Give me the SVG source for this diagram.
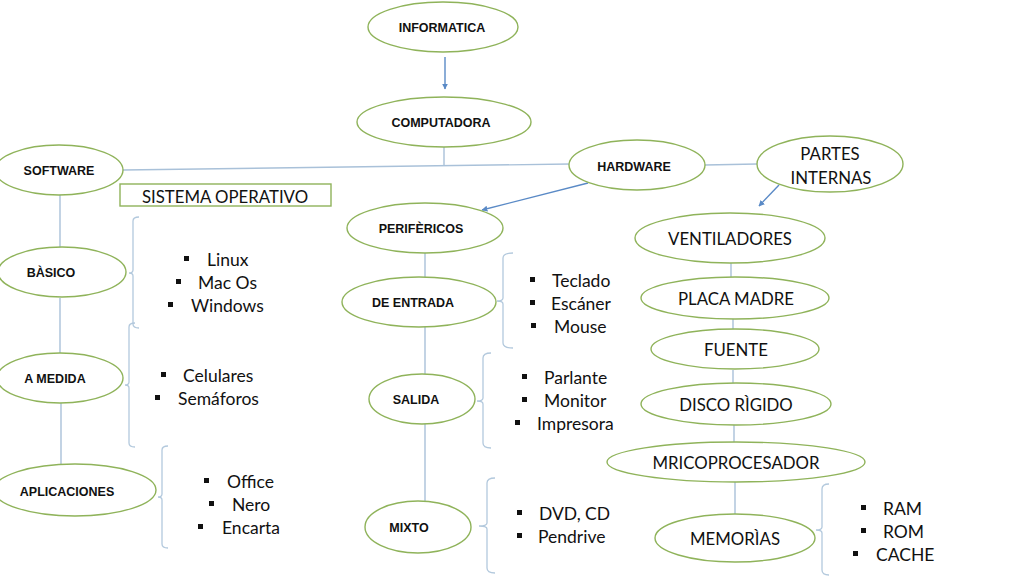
<svg xmlns="http://www.w3.org/2000/svg" width="1024" height="576" viewBox="0 0 1024 576">
<defs>
<style>
.node{fill:#fff;stroke:#8fb35a;stroke-width:1.4}
.lab{font-family:"Liberation Sans",Arial,sans-serif;font-weight:bold;font-size:12.5px;fill:#111;text-anchor:middle;dominant-baseline:central}
.big{font-family:Lato,"Open Sans",sans-serif;font-size:16.8px;fill:#111;text-anchor:middle;dominant-baseline:central}
.li{font-family:Lato,"Open Sans",sans-serif;font-size:17.5px;fill:#111;text-anchor:start;dominant-baseline:central}
.con{stroke:#a9c1d9;stroke-width:1.4;fill:none}
.arr{stroke:#5a8ac6;stroke-width:1.4;fill:none;marker-end:url(#ah)}
.br{stroke:#b3c9dd;stroke-width:1.3;fill:none}
.bul{fill:#111}
</style>
<marker id="ah" viewBox="0 0 10 10" refX="9" refY="5" markerWidth="6" markerHeight="6" orient="auto" markerUnits="userSpaceOnUse">
<path d="M0,0 L10,5 L0,10 z" fill="#5a8ac6"/>
</marker>
</defs>
<rect width="1024" height="576" fill="#fff"/>

<g id="connectors">
<line class="arr" x1="445" y1="57" x2="445" y2="89"/>
<line class="arr" x1="588" y1="183" x2="482" y2="210"/>
<line class="arr" x1="779" y1="185" x2="759" y2="206"/>
<line class="con" x1="444" y1="147" x2="444" y2="166"/>
<line class="con" x1="123" y1="170" x2="570" y2="164"/>
<line class="con" x1="705" y1="165" x2="757" y2="164"/>
<line class="con" x1="60" y1="195" x2="60" y2="247"/>
<line class="con" x1="60" y1="298" x2="60" y2="353"/>
<line class="con" x1="61" y1="403" x2="61" y2="465"/>
<line class="con" x1="425" y1="253" x2="425" y2="277"/>
<line class="con" x1="425" y1="327" x2="425" y2="374"/>
<line class="con" x1="425" y1="424" x2="425" y2="501"/>
<line class="con" x1="731" y1="263" x2="731" y2="277"/>
<line class="con" x1="733" y1="319" x2="733" y2="329"/>
<line class="con" x1="733" y1="370" x2="733" y2="383"/>
<line class="con" x1="734" y1="425" x2="734" y2="442"/>
<line class="con" x1="735" y1="482" x2="735" y2="514"/>
</g>

<g id="brackets">
<path class="br" d="M139,217 Q133,217 133,221 L133,270 Q133,273 129,273 Q133,273 133,276 L133,324 Q133,328 139,328"/>
<path class="br" d="M135,323 Q129,323 129,327 L129,382 Q129,385 125,385 Q129,385 129,388 L129,443 Q129,447 135,447"/>
<path class="br" d="M168,446 Q162,446 162,450 L162,494 Q162,497 158,497 Q162,497 162,500 L162,544 Q162,548 168,548"/>
<path class="br" d="M513,253 Q503,253 503,258 L503,298 Q503,301 497,301 Q503,301 503,304 L503,343 Q503,348 513,348"/>
<path class="br" d="M491,353 Q483,353 483,358 L483,398 Q483,401 477,401 Q483,401 483,404 L483,443 Q483,448 491,448"/>
<path class="br" d="M495,478 Q487,478 487,483 L487,523 Q487,526 479,526 Q487,526 487,529 L487,568 Q487,573 495,573"/>
<path class="br" d="M829,484 Q822,484 822,489 L822,527 Q822,530 816,530 Q822,530 822,533 L822,570 Q822,575 829,575"/>
</g>

<g id="informatica"><ellipse class="node" cx="443" cy="27" rx="75" ry="25"/><text class="lab" x="442" y="28">INFORMATICA</text></g>
<g id="computadora"><ellipse class="node" cx="444" cy="122" rx="87" ry="25"/><text class="lab" x="441" y="123">COMPUTADORA</text></g>
<g id="software"><ellipse class="node" cx="59" cy="170" rx="64" ry="25"/><text class="lab" x="59" y="171">SOFTWARE</text></g>
<g id="sistema"><rect x="120" y="184" width="211" height="22" fill="#fff" stroke="#8fb35a" stroke-width="1.4"/><text class="big" x="225" y="196">SISTEMA OPERATIVO</text></g>
<g id="hardware"><ellipse class="node" cx="637" cy="165" rx="68" ry="25"/><text class="lab" x="634" y="167">HARDWARE</text></g>
<g id="partes"><ellipse class="node" cx="830" cy="164" rx="73" ry="28"/><text class="big" x="830" y="153">PARTES</text><text class="big" x="831" y="177">INTERNAS</text></g>

<g id="basico"><ellipse class="node" cx="62" cy="272" rx="64" ry="25"/><text class="lab" x="51" y="273">BÀSICO</text></g>
<g id="amedida"><ellipse class="node" cx="60" cy="378" rx="63" ry="25"/><text class="lab" x="55" y="379">A MEDIDA</text></g>
<g id="aplicaciones"><ellipse class="node" cx="75" cy="490" rx="81" ry="26"/><text class="lab" x="67" y="492">APLICACIONES</text></g>

<g id="list-basico">
<rect class="bul" x="184" y="256" width="5" height="5"/><text class="li" x="207" y="259">Linux</text>
<rect class="bul" x="176" y="279" width="5" height="5"/><text class="li" x="198" y="282">Mac Os</text>
<rect class="bul" x="168" y="302" width="5" height="5"/><text class="li" x="191" y="305">Windows</text>
</g>
<g id="list-medida">
<rect class="bul" x="161" y="372" width="5" height="5"/><text class="li" x="183" y="375">Celulares</text>
<rect class="bul" x="155" y="395" width="5" height="5"/><text class="li" x="178" y="398">Semáforos</text>
</g>
<g id="list-aplic">
<rect class="bul" x="204" y="478" width="5" height="5"/><text class="li" x="227" y="481">Office</text>
<rect class="bul" x="209" y="501" width="5" height="5"/><text class="li" x="232" y="504">Nero</text>
<rect class="bul" x="198" y="524" width="5" height="5"/><text class="li" x="222" y="527">Encarta</text>
</g>

<g id="perifericos"><ellipse class="node" cx="425" cy="228" rx="78" ry="25"/><text class="lab" x="421" y="229">PERIFÈRICOS</text></g>
<g id="entrada"><ellipse class="node" cx="419" cy="302" rx="77" ry="25"/><text class="lab" x="413" y="303">DE ENTRADA</text></g>
<g id="salida"><ellipse class="node" cx="422" cy="399" rx="53" ry="25"/><text class="lab" x="416" y="400">SALIDA</text></g>
<g id="mixto"><ellipse class="node" cx="418" cy="527" rx="53" ry="26"/><text class="lab" x="409" y="528">MIXTO</text></g>

<g id="list-entrada">
<rect class="bul" x="530" y="277" width="5" height="5"/><text class="li" x="552" y="280">Teclado</text>
<rect class="bul" x="530" y="300" width="5" height="5"/><text class="li" x="551" y="303">Escáner</text>
<rect class="bul" x="531" y="323" width="5" height="5"/><text class="li" x="554" y="326">Mouse</text>
</g>
<g id="list-salida">
<rect class="bul" x="522" y="374" width="5" height="5"/><text class="li" x="544" y="377">Parlante</text>
<rect class="bul" x="522" y="397" width="5" height="5"/><text class="li" x="544" y="400">Monitor</text>
<rect class="bul" x="515" y="420" width="5" height="5"/><text class="li" x="537" y="423">Impresora</text>
</g>
<g id="list-mixto">
<rect class="bul" x="517" y="510" width="5" height="5"/><text class="li" x="539" y="513">DVD, CD</text>
<rect class="bul" x="517" y="533" width="5" height="5"/><text class="li" x="538" y="536">Pendrive</text>
</g>

<g id="ventiladores"><ellipse class="node" cx="730" cy="238" rx="95" ry="25"/><text class="big" x="730" y="238">VENTILADORES</text></g>
<g id="placa"><ellipse class="node" cx="735" cy="298" rx="94" ry="21"/><text class="big" x="736" y="298">PLACA MADRE</text></g>
<g id="fuente"><ellipse class="node" cx="735" cy="349" rx="84" ry="20"/><text class="big" x="736" y="349">FUENTE</text></g>
<g id="disco"><ellipse class="node" cx="736" cy="404" rx="95" ry="21"/><text class="big" x="736" y="404">DISCO RÌGIDO</text></g>
<g id="micro"><ellipse class="node" cx="736" cy="462" rx="129" ry="20"/><text class="big" x="736" y="462">MRICOPROCESADOR</text></g>
<g id="memorias"><ellipse class="node" cx="735" cy="538" rx="80" ry="24"/><text class="big" x="735" y="538">MEMORÌAS</text></g>

<g id="list-mem">
<rect class="bul" x="861" y="505" width="5" height="5"/><text class="li" x="883" y="508">RAM</text>
<rect class="bul" x="861" y="528" width="5" height="5"/><text class="li" x="883" y="531">ROM</text>
<rect class="bul" x="853" y="551" width="5" height="5"/><text class="li" x="876" y="554">CACHE</text>
</g>
</svg>
